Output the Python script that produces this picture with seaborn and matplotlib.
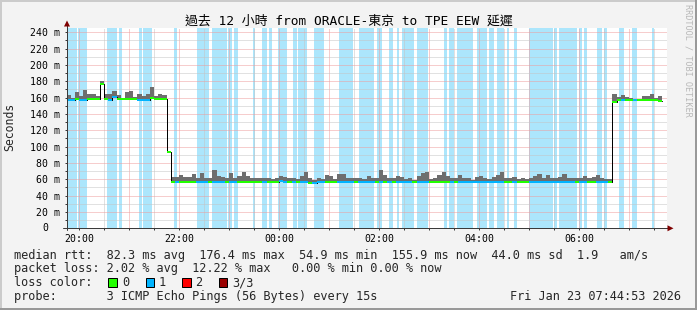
import numpy as np
import pandas as pd
import matplotlib
matplotlib.use("Agg")
import matplotlib.pyplot as plt
from matplotlib.patches import Rectangle, Polygon
from matplotlib.ticker import FixedLocator, FuncFormatter
import matplotlib.transforms as mtransforms
import seaborn as sns

# ---------------- data ----------------
first_sample_hour = 19.75          # 19:45 on Thu Jan 22, first 5-minute sample
step_minutes = 5

median_ms = [
    # 19:45 - 21:40
    157.2, 157.2, 158.2, 157.0, 157.3, 158.3, 158.0, 158.2, 176.4, 158.2, 157.5, 160.5,
    157.8, 158.2, 158.0, 158.3, 158.0, 157.6, 157.4, 157.4, 159.0, 158.2, 158.0, 158.2,
    # 21:45 transition
    94.0,
    # 21:50 - 06:35
    56.6, 56.4, 56.8, 56.5, 56.3, 56.6, 56.5, 56.7, 56.4, 56.6,
    56.5, 56.2, 56.8, 57.2, 56.5, 56.4, 56.6, 56.3, 56.9, 56.5,
    56.4, 56.6, 56.2, 56.5, 56.8, 56.3, 57.8, 56.5, 56.4, 56.6,
    56.2, 56.5, 56.3, 54.9, 55.6, 56.5, 56.7, 56.4, 56.6, 56.3,
    56.5, 56.8, 56.4, 56.6, 56.2, 56.5, 56.7, 56.4, 56.6, 56.5,
    56.3, 56.8, 56.5, 56.4, 56.6, 56.2, 56.5, 56.7, 56.4, 56.6,
    56.5, 56.3, 56.8, 56.4, 56.6, 56.5, 56.2, 56.7, 56.5, 56.4,
    56.6, 56.3, 56.5, 56.8, 56.4, 56.6, 56.5, 56.2, 56.7, 56.5,
    56.4, 56.6, 56.3, 56.5, 56.8, 56.4, 56.6, 56.5, 56.2, 56.7,
    56.5, 56.4, 56.6, 56.3, 56.5, 56.8, 56.4, 56.6, 56.5, 56.2,
    56.7, 56.5, 56.4, 56.6, 56.3, 56.5,
    # 06:40 - 07:35
    154.5, 157.0, 157.0, 157.5, 157.0, 157.2, 157.0, 157.0, 157.2, 157.0, 157.1, 155.9,
]

smoke_max_ms = [
    163, 160, 167, 162, 169, 165, 164.5, 162, 180, 165, 165, 168,
    163, 160, 166.5, 168, 161, 164, 162, 164, 173, 162, 165, 163,
    95,
    63, 62.5, 65, 63, 62.5, 67, 61, 68, 61, 61,
    72, 64, 63, 61, 68, 62, 64, 68.5, 64, 62,
    61, 62, 61, 62, 60, 61, 64.5, 63, 61, 62,
    60, 64, 69, 61, 59, 61, 60, 65, 64.5, 60,
    66.5, 67, 61, 61, 62, 62, 60, 64.5, 62, 61,
    72, 65, 61, 61, 64.5,
    63, 60, 62, 59, 64, 68, 69, 60, 61, 65,
    69, 64, 61, 61, 65, 61, 61, 59, 63, 64,
    61, 60, 63, 65, 69, 61, 61, 63, 60, 61,
    60, 61, 64, 66, 61, 65, 61, 61, 63, 66,
    61, 61, 62, 61, 64, 61, 63, 65, 62, 60,
    60,
    165, 161, 163.5, 161, 160, 158.5, 158.5, 162.5, 162.5, 165, 160, 162,
]

# periods with packet loss (minutes after 19:00)
loss_bands_min = [
    (46.9, 57.0), (58.9, 69.0), (93.0, 105.7), (107.8, 111.0), (131.8, 135.0),
    (136.9, 147.0), (173.8, 177.7), (201.0, 215.8), (219.0, 237.0), (238.9, 243.0),
    (245.8, 250.9), (268.2, 271.0), (279.0, 285.0), (287.8, 291.7), (298.9, 309.0),
    (316.9, 321.7), (322.9, 333.0), (341.8, 353.8), (371.8, 388.9), (395.8, 413.8),
    (417.7, 423.0), (431.8, 436.9), (441.0, 443.8), (447.0, 461.8), (465.7, 478.9),
    (497.8, 501.7), (503.8, 509.8), (513.0, 532.9), (537.0, 549.7), (551.8, 557.8),
    (561.0, 569.8), (573.0, 575.8), (581.8, 585.0), (599.8, 628.9), (629.8, 633.7),
    (635.8, 657.0), (659.8, 663.0), (665.8, 669.7), (681.0, 687.7), (689.8, 693.0),
    (707.8, 713.8), (723.0, 729.7), (747.7, 749.8),
]

loss_labels = ["0", "1", "2", "3/3"]
loss_colors = ["#22FF00", "#00B4FF", "#FF0000", "#9A0000"]
band_color = "#ACE6FC"

y_ticks = [0, 20, 40, 60, 80, 100, 120, 140, 160, 180, 200, 220, 240]
x_tick_hours = [20, 21, 22, 23, 24, 25, 26, 27, 28, 29, 30, 31]

title = "過去 12 小時 from ORACLE-東京 to TPE EEW 延遲"
stats_line = "median rtt:  82.3 ms avg  176.4 ms max  54.9 ms min  155.9 ms now  44.0 ms sd  1.9   am/s"
loss_line = "packet loss: 2.02 % avg  12.22 % max   0.00 % min 0.00 % now"
color_label = "loss color:"
probe_line = "probe:       3 ICMP Echo Pings (56 Bytes) every 15s"
stamp = "Fri Jan 23 07:44:53 2026"
watermark = "RRDTOOL / TOBI OETIKER"

# ---------------- style ----------------
sns.set_theme(style="white")
plt.rcParams["font.family"] = ["DejaVu Sans Mono", "Noto Sans CJK TC"]

W, H = 697, 310
PX = 0.72  # one pixel in points at 100 dpi
axis_c = "#3A3A3A"
mgrid_c = "#EE9C9C"
grid_c = "#C4C4C4"
smoke_c = "#6E6E6E"

fig = plt.figure(figsize=(W / 100, H / 100), dpi=100, facecolor="#F3F3F3")
ax = fig.add_axes([67 / W, 1 - 228.3 / H, 600 / W, 200 / H])
ax.set_facecolor("white")

n = len(median_ms)
t = first_sample_hour + np.arange(n) * step_minutes / 60.0
t_end = t + step_minutes / 60.0
med = np.array(median_ms, dtype=float)
mx = np.array(smoke_max_ms, dtype=float)
band_hours = [(19 + a / 60.0, 19 + b / 60.0) for a, b in loss_bands_min]
mid = (t + t_end) / 2
lost = np.array([any(a <= m <= b for a, b in band_hours) for m in mid])

# loss background bands
for a, b in band_hours:
    ax.axvspan(a, b, color=band_color, lw=0, zorder=0.2)

# smoke
xe = np.append(t, t_end[-1])
ax.fill_between(xe, np.append(med, med[-1]), np.append(mx, mx[-1]),
                step="post", color=smoke_c, lw=0, zorder=2)

# median step line (black joins) via seaborn
df_line = pd.DataFrame({"t": xe, "median": np.append(med, med[-1])})
sns.lineplot(data=df_line, x="t", y="median", drawstyle="steps-post", color="black",
             linewidth=PX, ax=ax, zorder=2.5, estimator=None, sort=False)

# coloured median segments by loss
seg_colors = [loss_colors[1] if l else loss_colors[0] for l in lost]
ax.hlines(med, t, t_end, colors=seg_colors, linewidth=2 * PX, zorder=3)

ax.set_xlabel("")
ax.set_ylabel("")
ax.set_xlim(19.757, 31.757)
ax.set_ylim(0, 244.9)

# grid & ticks
ax.set_axisbelow(True)
ax.xaxis.set_major_locator(FixedLocator(x_tick_hours))
ax.xaxis.set_minor_locator(FixedLocator([h + 0.5 for h in x_tick_hours]))
ax.xaxis.set_major_formatter(FuncFormatter(
    lambda v, p: f"{int(round(v)) % 24:02d}:00" if int(round(v)) % 2 == 0 else ""))
ax.yaxis.set_major_locator(FixedLocator(y_ticks))
ax.yaxis.set_minor_locator(FixedLocator([v + 10 for v in y_ticks[:-1]]))
ax.yaxis.set_major_formatter(FuncFormatter(lambda v, p: "" if v == 0 else f"{int(v)} m"))

dots = (0, (1, 1))
ax.grid(which="major", axis="both", color=mgrid_c, lw=PX, linestyle=dots)
ax.grid(which="minor", axis="both", color=grid_c, lw=PX, linestyle=dots)

for s in ax.spines.values():
    s.set_visible(False)
ax.tick_params(axis="both", which="both", direction="out", length=2 * PX, width=PX,
               color=axis_c, labelcolor="black", labelsize=7.1, left=True, bottom=True)
ax.tick_params(axis="y", which="major", pad=3.7)
ax.tick_params(axis="x", which="major", pad=2.9)

# the "0" label sits further left in rrdtool
ax.text(-18.8 / 600, 0, "0", transform=mtransforms.blended_transform_factory(ax.transAxes, ax.transData),
        ha="right", va="center", fontsize=7.1, color="black")

# axis lines with arrows
ax.plot([0, 0], [-2 / 200, (228.3 - 23) / 200], transform=ax.transAxes, color=axis_c,
        lw=PX, clip_on=False, zorder=5)
ax.plot([-4 / 600, (669 - 67) / 600], [0, 0], transform=ax.transAxes, color=axis_c,
        lw=PX, clip_on=False, zorder=5)
ax.add_patch(Polygon([[0, (228.3 - 20.5) / 200], [-3 / 600, (228.3 - 26.5) / 200],
                      [3 / 600, (228.3 - 26.5) / 200]], closed=True, transform=ax.transAxes,
                     color="#7F0000", lw=0, clip_on=False, zorder=6))
ax.add_patch(Polygon([[(673.5 - 67) / 600, 0], [(667.5 - 67) / 600, 3 / 200],
                      [(667.5 - 67) / 600, -3 / 200]], closed=True, transform=ax.transAxes,
                     color="#7F0000", lw=0, clip_on=False, zorder=6))

# ---------------- texts ----------------
def fx(x):
    return x / W

def fy(y):
    return 1 - y / H

fig.text(0.5, fy(21), title, ha="center", va="center", fontsize=9.3, color="black")
fig.text(fx(10), fy(127), "Seconds", rotation=90, ha="center", va="center", fontsize=8.3)
fig.text(fx(688), fy(60), watermark, rotation=270, ha="center", va="center",
         fontsize=6.1, color="#B8B8B8")

LF = 8.55
x0 = 14.5
fig.text(fx(x0), fy(258.5), stats_line, ha="left", va="baseline", fontsize=LF)
fig.text(fx(x0), fy(272.3), loss_line, ha="left", va="baseline", fontsize=LF)
fig.text(fx(x0), fy(286.0), color_label, ha="left", va="baseline", fontsize=LF)
box_x = [108.3, 145.7, 182.3, 219.0]
lab_x = [122.2, 158.9, 195.5, 232.2]
for bx, lx, c, lab in zip(box_x, lab_x, loss_colors, loss_labels):
    fig.add_artist(Rectangle((fx(bx), fy(286.7)), 8.4 / W, 8.4 / H, transform=fig.transFigure,
                             facecolor=c, edgecolor="black", lw=PX))
    fig.text(fx(lx), fy(286.0), lab, ha="left", va="baseline", fontsize=LF)
fig.text(fx(x0), fy(299.8), probe_line, ha="left", va="baseline", fontsize=LF)
fig.text(fx(681), fy(299.8), stamp, ha="right", va="baseline", fontsize=LF)

# 3D-ish frame
fig.add_artist(Rectangle((0, 1 - 1.5 / H), 1, 1.5 / H, transform=fig.transFigure,
                         facecolor="#CBCBCB", lw=0))
fig.add_artist(Rectangle((0, 0), 1.5 / W, 1, transform=fig.transFigure,
                         facecolor="#CBCBCB", lw=0))
fig.add_artist(Rectangle((0, 0), 1, 2.5 / H, transform=fig.transFigure,
                         facecolor="#999999", lw=0))
fig.add_artist(Rectangle((1 - 2.5 / W, 0), 2.5 / W, 1, transform=fig.transFigure,
                         facecolor="#999999", lw=0))

fig.savefig("out.png", dpi=100, facecolor=fig.get_facecolor())
